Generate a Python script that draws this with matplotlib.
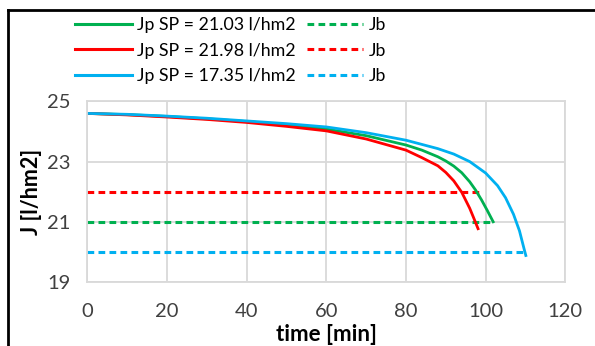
import matplotlib
matplotlib.use("Agg")
import matplotlib.pyplot as plt
from matplotlib.lines import Line2D

plt.rcParams['font.family'] = ['Lato', 'DejaVu Sans']

# permeate flux curves
t_green = [0, 10, 20, 30, 40, 50, 60, 70, 80, 84, 88, 90, 92, 94, 96, 97.5, 99, 100.4, 101.9]
j_green = [24.6, 24.56, 24.5, 24.42, 24.33, 24.22, 24.08, 23.86, 23.55, 23.38, 23.16, 23.02,
           22.85, 22.63, 22.33, 22.05, 21.72, 21.38, 21.0]

t_red = [0, 10, 20, 30, 40, 50, 60, 70, 80, 84, 88, 90, 92, 94, 96, 97, 98.1]
j_red = [24.6, 24.55, 24.48, 24.4, 24.3, 24.17, 24.02, 23.75, 23.38, 23.13, 22.86, 22.64,
         22.36, 21.98, 21.45, 21.13, 20.77]

t_blue = [0, 10, 20, 30, 40, 50, 60, 70, 80, 84, 88, 92, 96, 100, 103, 105, 107, 108.5, 109.7, 110.1]
j_blue = [24.6, 24.57, 24.51, 24.44, 24.35, 24.26, 24.15, 23.96, 23.71, 23.57, 23.43, 23.25,
          23.0, 22.62, 22.2, 21.8, 21.25, 20.7, 20.08, 19.88]

# Jb lines: level and end time
jb_green = 21.0
jb_red = 22.0
jb_blue = 20.0
end_green = 101.9
end_red = 99.2
end_blue = 110.1

labels = ['Jp SP = 21.03 l/hm2', 'Jp SP = 21.98 l/hm2', 'Jp SP = 17.35 l/hm2']
green = '#00B050'
red = '#FF0000'
blue = '#00B0F0'
dash = (0, (2.2, 1.4))

fig = plt.figure(figsize=(5.95, 3.46), dpi=100)
ax = fig.add_axes([0.147, 0.185, 0.803, 0.522])

ax.plot([0, end_green], [jb_green, jb_green], color=green, lw=2.2, ls=dash)
ax.plot([0, end_red], [jb_red, jb_red], color=red, lw=2.2, ls=dash)
ax.plot([0, end_blue], [jb_blue, jb_blue], color=blue, lw=2.2, ls=dash)
ax.plot(t_green, j_green, color=green, lw=2.0)
ax.plot(t_red, j_red, color=red, lw=2.0)
ax.plot(t_blue, j_blue, color=blue, lw=2.0)

ax.set_xlim(0, 120)
ax.set_ylim(19, 25)
ax.set_xticks([0, 20, 40, 60, 80, 100, 120])
ax.set_yticks([19, 21, 23, 25])
ax.grid(True, color='#D9D9D9', lw=1.3)
ax.set_axisbelow(True)
for s in ax.spines.values():
    s.set_color('#D9D9D9')
    s.set_linewidth(1.3)
ax.tick_params(length=0, labelsize=14.5, labelcolor='#404040')
ax.tick_params(axis='x', pad=15)
ax.tick_params(axis='y', pad=12)
ax.set_xlabel('time [min]', fontsize=16, fontweight='bold', labelpad=3)
ax.set_ylabel('J [l/hm2]', fontsize=15.5, fontweight='bold', labelpad=4)

handles = [Line2D([], [], color=green, lw=2.2), Line2D([], [], color=red, lw=2.2),
           Line2D([], [], color=blue, lw=2.2),
           Line2D([], [], color=green, lw=2.2, ls=dash),
           Line2D([], [], color=red, lw=2.2, ls=dash),
           Line2D([], [], color=blue, lw=2.2, ls=dash)]
fig.legend(handles, labels + ['Jb', 'Jb', 'Jb'], ncol=2, frameon=False, fontsize=12.8,
           loc='upper left', bbox_to_anchor=(0.114, 0.972), handlelength=3.2,
           handletextpad=0.3, columnspacing=0.6, labelspacing=0.55, borderaxespad=0)

# black frame edges of the cut-out
fig.add_artist(Line2D([0.013, 0.013], [0, 0.971], color='black', lw=2, transform=fig.transFigure))
fig.add_artist(Line2D([0.013, 1], [0.971, 0.971], color='black', lw=2, transform=fig.transFigure))

fig.savefig('out.png', dpi=100)
